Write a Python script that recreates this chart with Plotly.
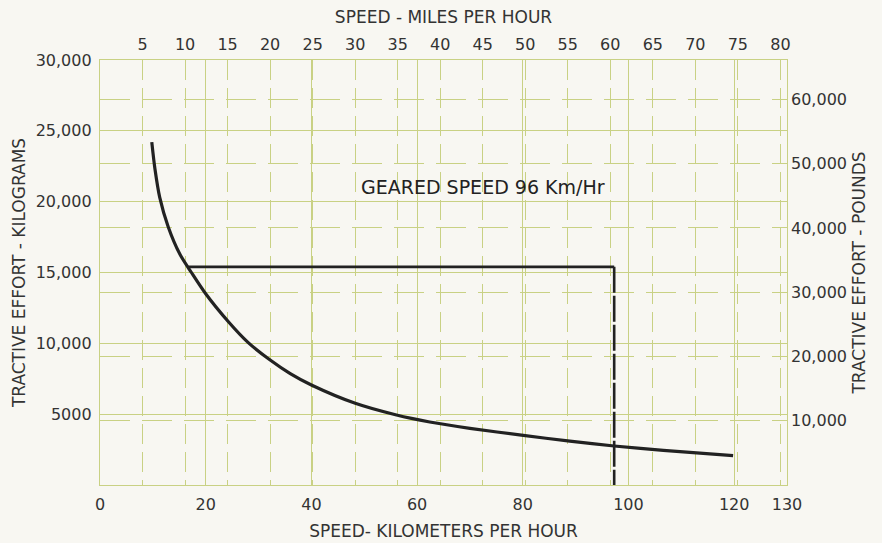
import plotly.graph_objects as go

# ---- data ----
speed_kmh = [9.8, 10.4, 11.3, 12.9, 15.1, 17.3, 20.0, 24.3, 28.0, 32.2, 36.0, 40.0,
             48.3, 56.1, 62.4, 70.0, 80.1, 88.9, 97.3, 106.6, 119.8]
effort_kg = [24200, 22300, 20300, 18230, 16300, 15000, 13500, 11525, 10070, 8820, 7860, 7057,
             5765, 4940, 4450, 4000, 3500, 3100, 2752, 2440, 2068]

geared_start_kmh = 16.7
geared_speed_kmh = 97.3
geared_effort_kg = 15400

kmh_ticks = [0, 20, 40, 60, 80, 100, 120, 130]
mph_ticks = [5, 10, 15, 20, 25, 30, 35, 40, 45, 50, 55, 60, 65, 70, 75, 80]
kg_ticks = [5000, 10000, 15000, 20000, 25000, 30000]
kg_ticktext = ["5000", "10,000", "15,000", "20,000", "25,000", "30,000"]
lb_ticks = [10000, 20000, 30000, 40000, 50000, 60000]
lb_ticktext = ["10,000", "20,000", "30,000", "40,000", "50,000", "60,000"]

KMH_MAX = 130
KG_MAX = 30000
KMH_PER_MPH = 1.609344
LB_PER_KG = 2.20462

GRID = "#c9d184"
INK = "#222222"
BG = "#f8f7f2"
FONT = "DejaVu Sans"

fig = go.Figure()

fig.add_trace(go.Scatter(
    x=speed_kmh, y=effort_kg, mode="lines",
    line=dict(color=INK, width=3.2, shape="spline", smoothing=0.8),
    hoverinfo="skip", showlegend=False))

# geared speed: horizontal limit then dashed vertical drop
fig.add_trace(go.Scatter(
    x=[geared_start_kmh, geared_speed_kmh], y=[geared_effort_kg, geared_effort_kg],
    mode="lines", line=dict(color=INK, width=2.6),
    hoverinfo="skip", showlegend=False))
fig.add_trace(go.Scatter(
    x=[geared_speed_kmh, geared_speed_kmh], y=[geared_effort_kg, 0],
    mode="lines", line=dict(color=INK, width=2.6, dash="26px,3px"),
    hoverinfo="skip", showlegend=False))

# invisible traces to activate the secondary axes
fig.add_trace(go.Scatter(x=[None], y=[None], xaxis="x2", yaxis="y", showlegend=False))
fig.add_trace(go.Scatter(x=[None], y=[None], xaxis="x", yaxis="y2", showlegend=False))

fig.add_annotation(
    x=72.4, y=21050, xref="x", yref="y", text="GEARED SPEED 96 Km/Hr",
    showarrow=False, font=dict(family=FONT, size=19, color=INK))

tickfont = dict(family=FONT, size=16, color="#333333")
titlefont = dict(family=FONT, size=17, color="#333333")

fig.update_layout(
    width=882, height=543,
    margin=dict(l=100, r=95, t=60, b=58),
    paper_bgcolor=BG, plot_bgcolor=BG,
    xaxis=dict(
        range=[0, KMH_MAX], tickmode="array", tickvals=kmh_ticks,
        ticktext=[str(v) for v in kmh_ticks], automargin=False,
        showgrid=True, gridcolor=GRID, gridwidth=1.3, zeroline=False,
        showline=True, linecolor=GRID, linewidth=1.3, mirror=True,
        ticks="", ticklabelstandoff=5, tickfont=tickfont,
        title=dict(text="SPEED- KILOMETERS PER HOUR", font=titlefont, standoff=11)),
    xaxis2=dict(
        range=[0, KMH_MAX / KMH_PER_MPH], overlaying="x", side="top", automargin=False,
        tickmode="array", tickvals=mph_ticks, ticktext=[str(v) for v in mph_ticks],
        showgrid=True, gridcolor=GRID, gridwidth=1.1, griddash="20px,8px", zeroline=False,
        ticks="", ticklabelstandoff=6, tickfont=tickfont,
        title=dict(text="SPEED - MILES PER HOUR", font=titlefont, standoff=6)),
    yaxis=dict(
        range=[0, KG_MAX], tickmode="array", tickvals=kg_ticks, ticktext=kg_ticktext,
        automargin=False,
        showgrid=True, gridcolor=GRID, gridwidth=1.3, zeroline=False,
        showline=True, linecolor=GRID, linewidth=1.3, mirror=True,
        ticks="", ticklabelstandoff=4, tickfont=tickfont,
        title=dict(text="TRACTIVE EFFORT - KILOGRAMS", font=titlefont, standoff=5)),
    yaxis2=dict(
        range=[0, KG_MAX * LB_PER_KG], overlaying="y", side="right", automargin=False,
        tickmode="array", tickvals=lb_ticks, ticktext=lb_ticktext,
        showgrid=True, gridcolor=GRID, gridwidth=1.1, griddash="30px,12px", zeroline=False,
        ticks="", ticklabelstandoff=3, tickfont=tickfont,
        title=dict(text="TRACTIVE EFFORT - POUNDS", font=titlefont, standoff=7)),
)

fig.write_html(
    "out.html",
    config={"displayModeBar": False},
    post_script="document.body.style.margin='0';document.body.style.background='%s';" % BG,
)
